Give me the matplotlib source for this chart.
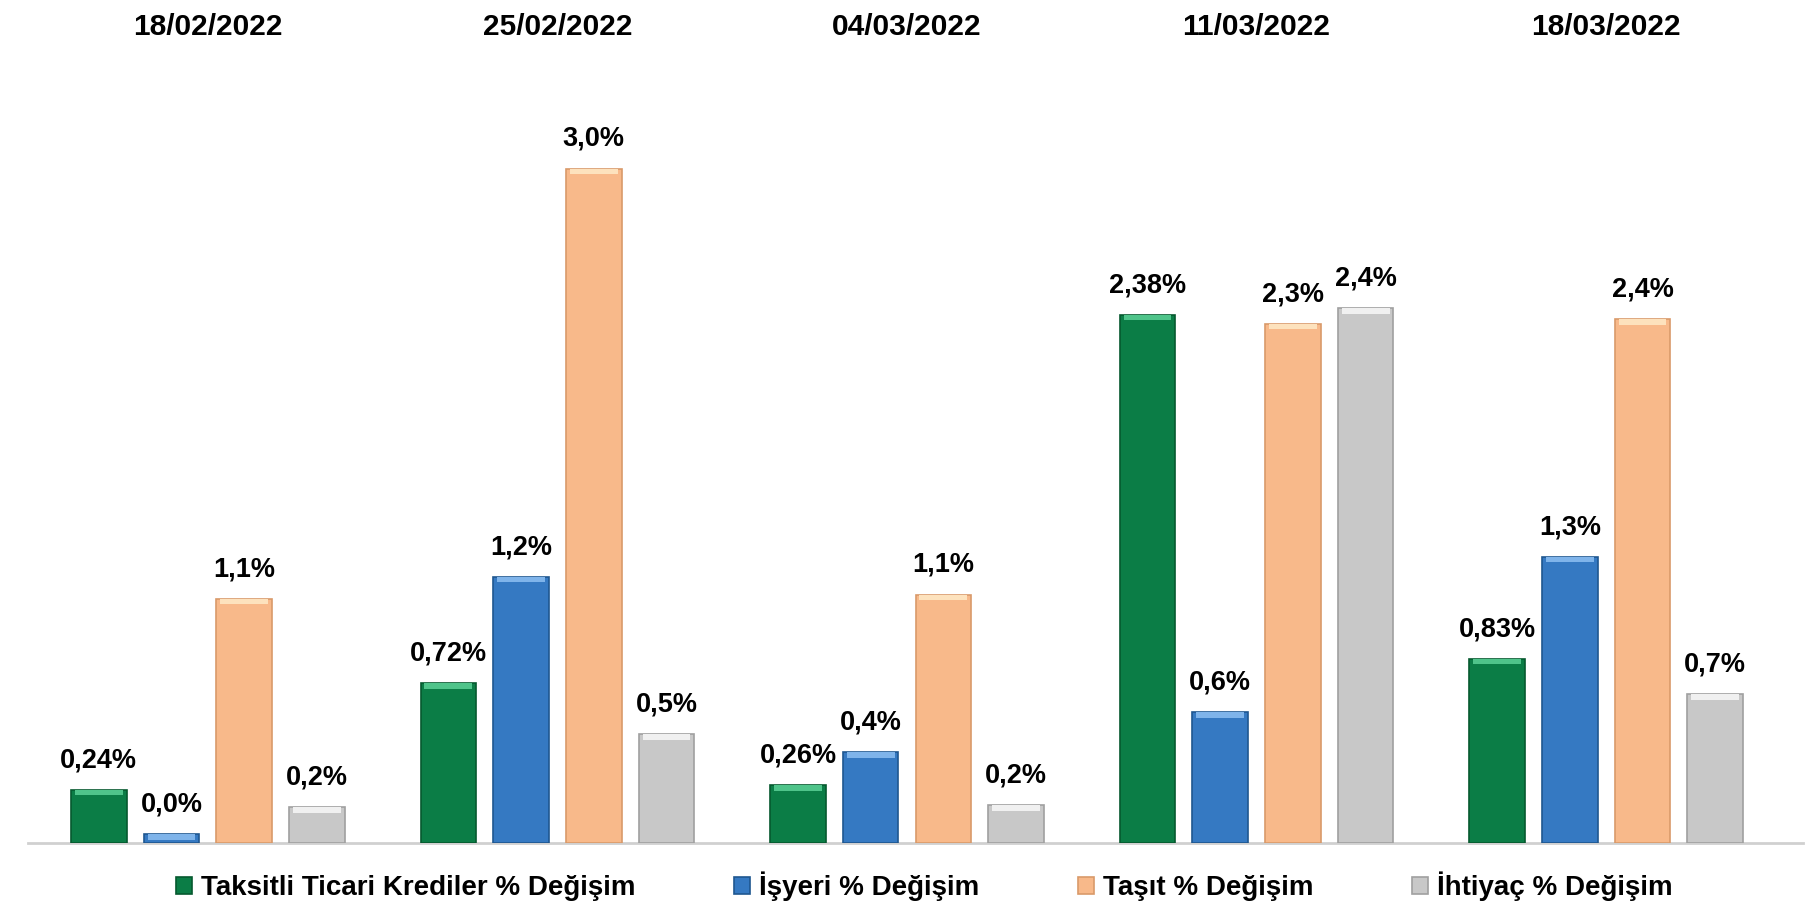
import numpy as np
import matplotlib
matplotlib.use('Agg')
from matplotlib import pyplot as plt

plt.rcParams['font.family'] = ['Liberation Sans', 'DejaVu Sans']
plt.rcParams['font.weight'] = 'bold'

# haftalik yuzde degisimler
dates = ['18/02/2022', '25/02/2022', '04/03/2022', '11/03/2022', '18/03/2022']
series = ['Taksitli Ticari Krediler % Değişim', 'İşyeri % Değişim',
          'Taşıt % Değişim', 'İhtiyaç % Değişim']
ticari = [0.24, 0.72, 0.26, 2.38, 0.83]
isyeri = [0.04, 1.20, 0.41, 0.59, 1.29]
tasit = [1.10, 3.04, 1.12, 2.34, 2.36]
ihtiyac = [0.16, 0.49, 0.17, 2.41, 0.67]
decimals = [2, 1, 1, 1]

colors = ['#0b7d46', '#3579c2', '#f8b98a', '#c8c8c8']
tops = ['#4fc48a', '#7fb4ea', '#fde2bd', '#f0f0f0']
edges = ['#06592f', '#1f5790', '#d99a6a', '#a0a0a0']

data = [ticari, isyeri, tasit, ihtiyac]
x = np.arange(len(dates))
w = 0.159
step = 0.208

fig = plt.figure(figsize=(18.19, 9.19), dpi=100)
ax = fig.add_axes([0.0154, 0.0827, 0.976, 0.845])

for i, vals in enumerate(data):
    pos = x + (i - 1.5) * step
    ax.bar(pos, vals, width=w, color=colors[i], edgecolor=edges[i],
           linewidth=1.2, label=series[i], zorder=3)
    # light bevel at top of bar
    cap = [min(0.025, v) for v in vals]
    ax.bar(pos, cap, width=w * 0.86, bottom=np.array(vals) - np.array(cap),
           color=tops[i], linewidth=0, zorder=4)
    for p, v in zip(pos, vals):
        txt = f'{v:.{decimals[i]}f}%'.replace('.', ',')
        ax.annotate(txt, (p, v), xytext=(0, 12), textcoords='offset points',
                    ha='center', va='bottom', fontsize=19.5, fontweight='bold')

ax.set_xlim(-0.5145, 4.564)
ax.set_ylim(0, 3.5)
ax.xaxis.tick_top()
ax.set_xticks(x)
ax.set_xticklabels(dates, fontsize=21.5, fontweight='bold')
ax.tick_params(axis='x', length=0, pad=18)
ax.set_yticks([])
for s in ['top', 'left', 'right']:
    ax.spines[s].set_visible(False)
ax.spines['bottom'].set_color('#d0d0d0')
ax.spines['bottom'].set_linewidth(2)

leg = fig.legend(loc='lower center', bbox_to_anchor=(0.508, -0.008), ncol=4,
                 frameon=False, fontsize=20, handlelength=0.6, handleheight=0.6,
                 handletextpad=0.3, columnspacing=3.55)
for t in leg.get_texts():
    t.set_fontweight('bold')

fig.savefig('out.png', dpi=100)
